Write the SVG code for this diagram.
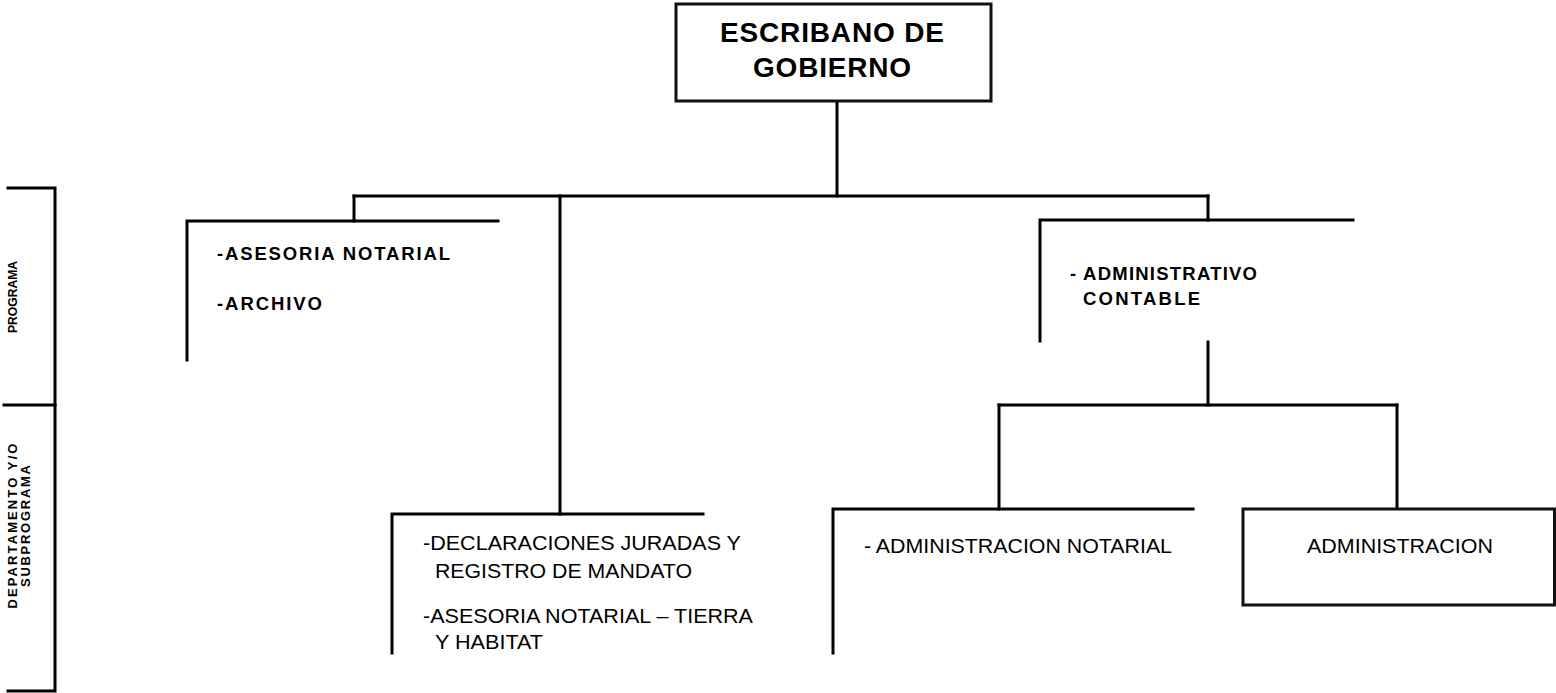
<svg xmlns="http://www.w3.org/2000/svg" width="1556" height="693" viewBox="0 0 1556 693">
<style>
.ln{fill:none;stroke:#000;stroke-width:3;stroke-linecap:square}
.bx{fill:#fff;stroke:#111;stroke-width:3}
.b{font-family:"Liberation Sans",Arial,sans-serif;font-weight:bold;fill:#000}
.r{font-family:"Liberation Sans",Arial,sans-serif;fill:#000}
</style>
<rect width="1556" height="693" fill="#fff"/>
<g id="connectors">
<path class="ln" d="M837,101 V196"/>
<path class="ln" d="M354,196 H1208"/>
<path class="ln" d="M354,196 V221"/>
<path class="ln" d="M560,196 V514"/>
<path class="ln" d="M1208,196 V220"/>
<path class="ln" d="M1208,342 V405"/>
<path class="ln" d="M999,405 H1397"/>
<path class="ln" d="M999,405 V509"/>
<path class="ln" d="M1397,405 V509"/>
</g>
<g id="scale">
<path class="ln" d="M8,188 H55 V691 H8"/>
<path class="ln" d="M4,405 H55"/>
<text class="b" font-size="13" transform="translate(17,297) rotate(-90)" text-anchor="middle" textLength="72" lengthAdjust="spacingAndGlyphs">PROGRAMA</text>
<text class="b" font-size="13" transform="translate(17,526) rotate(-90)" text-anchor="middle" textLength="165" lengthAdjust="spacing">DEPARTAMENTO  Y/O</text>
<text class="b" font-size="13" transform="translate(30,526) rotate(-90)" text-anchor="middle" textLength="122" lengthAdjust="spacing">SUBPROGRAMA</text>
</g>
<g id="n-escribano">
<rect class="bx" x="676" y="4" width="315" height="97"/>
<text class="b" font-size="28" x="832" y="42" text-anchor="middle" textLength="224" lengthAdjust="spacing">ESCRIBANO DE</text>
<text class="b" font-size="28" x="832" y="77" text-anchor="middle" textLength="158" lengthAdjust="spacing">GOBIERNO</text>
</g>
<g id="n-asesoria">
<path class="ln" d="M187,360 V221 H498"/>
<text class="b" font-size="18.5" x="217" y="260" textLength="233" lengthAdjust="spacing">-ASESORIA NOTARIAL</text>
<text class="b" font-size="18.5" x="217" y="310" textLength="105" lengthAdjust="spacing">-ARCHIVO</text>
</g>
<g id="n-declaraciones">
<path class="ln" d="M392,653 V514 H703"/>
<text class="r" font-size="21" x="423" y="550" textLength="318" lengthAdjust="spacingAndGlyphs">-DECLARACIONES JURADAS Y</text>
<text class="r" font-size="21" x="435" y="578" textLength="257" lengthAdjust="spacingAndGlyphs">REGISTRO DE MANDATO</text>
<text class="r" font-size="21" x="423" y="623" textLength="330" lengthAdjust="spacingAndGlyphs">-ASESORIA NOTARIAL – TIERRA</text>
<text class="r" font-size="21" x="435" y="649" textLength="108" lengthAdjust="spacingAndGlyphs">Y HABITAT</text>
</g>
<g id="n-contable">
<path class="ln" d="M1040,341 V220 H1353"/>
<text class="b" font-size="18.5" x="1070" y="280" textLength="187" lengthAdjust="spacing">- ADMINISTRATIVO</text>
<text class="b" font-size="18.5" x="1083" y="305" textLength="117" lengthAdjust="spacing">CONTABLE</text>
</g>
<g id="n-notarial">
<path class="ln" d="M833,653 V509 H1193"/>
<text class="r" font-size="21" x="864" y="553" textLength="308" lengthAdjust="spacingAndGlyphs">- ADMINISTRACION NOTARIAL</text>
</g>
<g id="n-admin">
<rect class="bx" x="1243" y="509" width="311.5" height="96"/>
<text class="r" font-size="21" x="1400" y="553" text-anchor="middle" textLength="186" lengthAdjust="spacingAndGlyphs">ADMINISTRACION</text>
</g>
</svg>
